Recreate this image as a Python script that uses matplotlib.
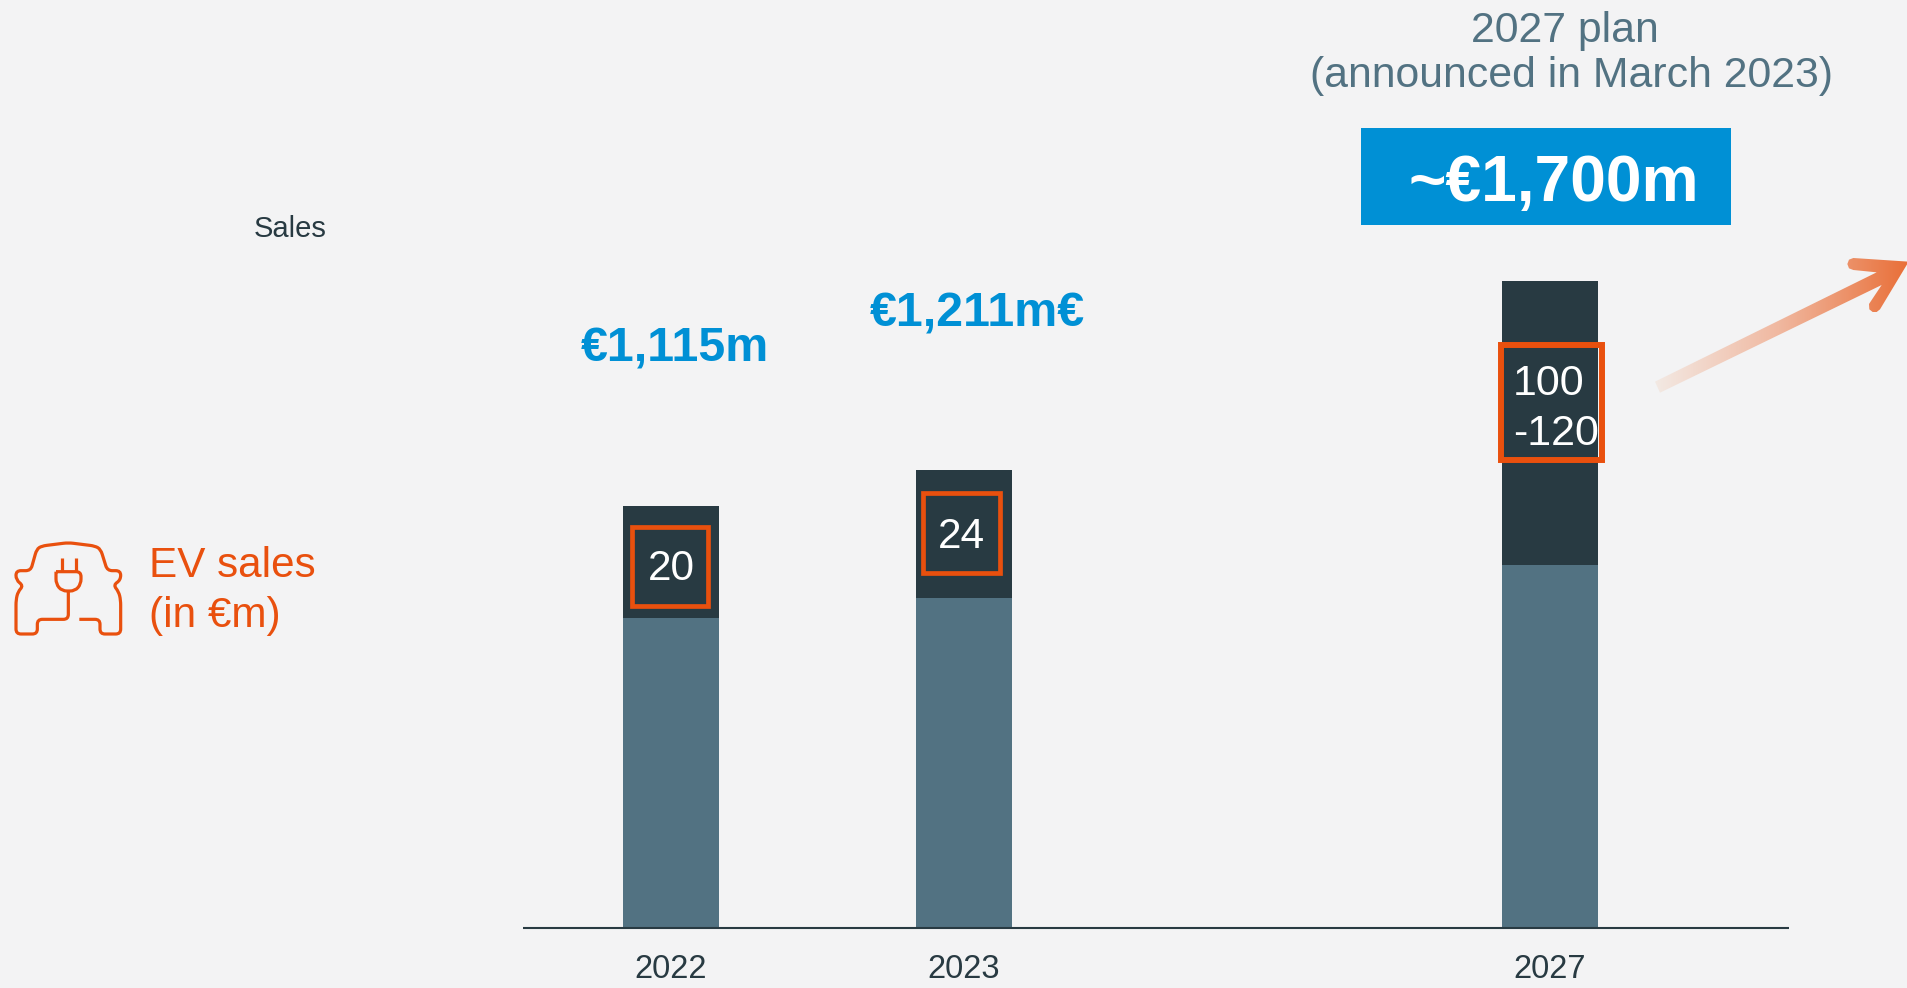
import numpy as np
import matplotlib
matplotlib.use("Agg")
import matplotlib.pyplot as plt
from matplotlib.path import Path
from matplotlib.patches import PathPatch, Rectangle
from matplotlib.colors import LinearSegmentedColormap

# valores (en millones de euros)
anios = ["2022", "2023", "2027"]
posiciones = [0, 1, 3]
ventas_resto = [817, 870, 956]
ventas_ev = [295, 337, 749]
etiquetas_ev = ["20", "24", "100\n-120"]
totales = ["€1,115m", "€1,211m€", "~€1,700m"]

FONDO = "#f3f3f4"
OSCURO = "#283a42"
GRIS = "#527282"
NARANJA = "#e9500e"
AZUL = "#0090d5"

plt.rcParams["font.family"] = ["Liberation Sans", "DejaVu Sans"]

W, H = 1908, 988
fig = plt.figure(figsize=(W / 100, H / 100), dpi=100, facecolor=FONDO)

# ejes del grafico
ax = fig.add_axes([523 / W, (H - 928) / H, (1789 - 523) / W, 700 / H])
ax.patch.set_alpha(0)
ax.set_xlim(-0.505, 3.816)
ax.set_ylim(0, 700 / 0.3795)
ax.bar(posiciones, ventas_resto, width=0.328, color=GRIS)
ax.bar(posiciones, ventas_ev, width=0.328, bottom=ventas_resto, color=OSCURO)
for lado in ["top", "left", "right"]:
    ax.spines[lado].set_visible(False)
ax.spines["bottom"].set_color(OSCURO)
ax.spines["bottom"].set_linewidth(1.5)
ax.spines["bottom"].set_capstyle("butt")
ax.set_yticks([])
ax.set_xticks(posiciones)
ax.set_xticklabels(anios, fontsize=23.5, color=OSCURO)
ax.tick_params(axis="x", length=0, pad=19)

# capa en pixeles para textos y recuadros, por encima del grafico
capa = fig.add_axes([0, 0, 1, 1], zorder=5)
capa.set_xlim(0, W)
capa.set_ylim(H, 0)
capa.axis("off")

# recuadros naranjas
for x0, y0, x1, y1, g in [(631.7, 527.3, 708.3, 606.3, 3.4),
                          (923.3, 493.3, 1000.3, 572.7, 3.4),
                          (1501.3, 345.3, 1601.7, 459.7, 4.3)]:
    capa.add_patch(Rectangle((x0, y0), x1 - x0, y1 - y0, fill=False, ec=NARANJA, lw=g, zorder=5))
capa.text(671, 569, etiquetas_ev[0], color="white", fontsize=30.5, ha="center", va="center", zorder=6)
capa.text(961, 537, etiquetas_ev[1], color="white", fontsize=30.5, ha="center", va="center", zorder=6)
capa.text(1513, 409, etiquetas_ev[2], color="white", fontsize=31, ha="left", va="center",
          multialignment="left", linespacing=1.33, zorder=6)

# totales
capa.text(675, 349, totales[0], color=AZUL, fontsize=34.8, fontweight="bold", ha="center", va="center")
capa.text(977, 314, totales[1], color=AZUL, fontsize=34.8, fontweight="bold", ha="center", va="center")
capa.add_patch(Rectangle((1361, 128), 370, 97, color=AZUL, lw=0))
capa.text(1554, 184, totales[2], color="white", fontsize=46.2, fontweight="bold", ha="center", va="center")

capa.text(1565, 31, "2027 plan", color=GRIS, fontsize=30.8, ha="center", va="center")
capa.text(1572, 76, "(announced in March 2023)", color=GRIS, fontsize=30.8, ha="center", va="center")
capa.text(254, 229, "Sales", color=OSCURO, fontsize=21, ha="left", va="center")
capa.text(149, 591, "EV sales\n(in €m)", color=NARANJA, fontsize=30.4, ha="left", va="center", linespacing=1.34)


# contorno abierto con esquinas redondeadas por curvas cuadraticas
def redondear(puntos, r):
    puntos = np.array(puntos, dtype=float)
    verts = [puntos[0]]
    codes = [Path.MOVETO]
    for i in range(1, len(puntos) - 1):
        p = puntos[i]
        a = puntos[i - 1]
        b = puntos[i + 1]
        ra = min(r, np.linalg.norm(a - p) / 2)
        rb = min(r, np.linalg.norm(b - p) / 2)
        verts += [p + (a - p) / np.linalg.norm(a - p) * ra, p, p + (b - p) / np.linalg.norm(b - p) * rb]
        codes += [Path.LINETO, Path.CURVE3, Path.CURVE3]
    verts.append(puntos[-1])
    codes.append(Path.LINETO)
    return Path(verts, codes)


# icono del coche, puntos tomados del zoom (x/3, 520+y/3)
def zp(x, y):
    return (x / 3, 520 + y / 3)


coche = [(238, 298), (300, 298), (300, 342), (362, 342), (362, 240), (356, 215), (340, 195),
         (362, 180), (362, 152), (322, 152), (302, 88), (285, 78), (205, 68), (125, 78), (110, 88),
         (92, 152), (48, 152), (48, 180), (70, 197), (54, 215), (48, 240), (48, 342), (112, 342),
         (112, 298), (205, 298), (205, 215)]
capa.add_patch(PathPatch(redondear([zp(*p) for p in coche], 5), fill=False, ec=NARANJA, lw=2.3, capstyle="butt"))
enchufe = [(168, 155), (243, 155), (243, 192), (225, 213), (186, 213), (168, 192), (168, 155)]
capa.add_patch(PathPatch(redondear([zp(*p) for p in enchufe], 5), fill=False, ec=NARANJA, lw=2.3))
for x in [185, 227]:
    capa.plot(*zip(zp(x, 113), zp(x, 155)), color=NARANJA, lw=2.3, solid_capstyle="butt")


# flecha con degradado, contorno del zoom (1440+x/3, 240+y/3)
def fp(x, y):
    return (1440 + x / 3, 240 + y / 3)


contorno = [(645, 425), (1310, 97), (1240, 90), (1227, 85), (1222, 72), (1227, 59), (1240, 54),
            (1406, 65), (1320, 208), (1310, 216), (1298, 216), (1288, 208), (1287, 192),
            (1325, 135), (660, 458)]
flecha = Path([fp(*p) for p in contorno] + [fp(*contorno[0])], closed=True)
cmap = LinearSegmentedColormap.from_list("flecha", ["#f3ebe6", "#f0b8a0", "#e96f38"])
grad = capa.imshow(np.linspace(0, 1, 256).reshape(1, -1), cmap=cmap, aspect="auto",
                   extent=(1650, 1908, 396, 258), zorder=3)
grad.set_clip_path(PathPatch(flecha, transform=capa.transData))
capa.set_xlim(0, W)
capa.set_ylim(H, 0)

fig.savefig("out.png", dpi=100, facecolor=FONDO)
